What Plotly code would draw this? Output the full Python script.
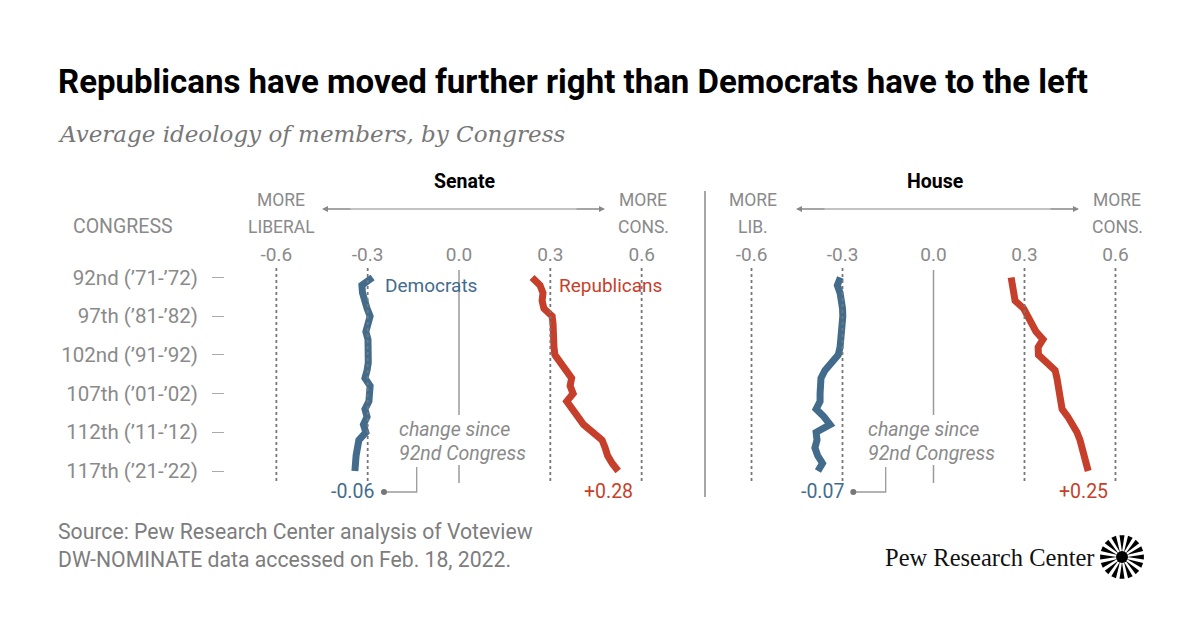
import math
import plotly.graph_objects as go

# ---------------- data ----------------
congress = list(range(92, 118))
ytick_vals = [92, 97, 102, 107, 112, 117]
ytick_text = ["92nd (’71-’72)", "97th (’81-’82)", "102nd (’91-’92)",
              "107th (’01-’02)", "112th (’11-’12)", "117th (’21-’22)"]
xtick_vals = [-0.6, -0.3, 0.0, 0.3, 0.6]
xtick_text = ["-0.6", "-0.3", "0.0", "0.3", "0.6"]
grid_vals = [-0.6, -0.3, 0.3, 0.6]

senate_dem = [-0.284, -0.319, -0.317, -0.312, -0.302, -0.292, -0.302, -0.306, -0.299, -0.297,
              -0.297, -0.298, -0.302, -0.309, -0.292, -0.294, -0.296, -0.309, -0.302, -0.314,
              -0.306, -0.329, -0.335, -0.338, -0.340, -0.342]
senate_rep = [0.240, 0.266, 0.276, 0.273, 0.279, 0.306, 0.309, 0.309, 0.312, 0.312,
              0.315, 0.332, 0.351, 0.370, 0.365, 0.375, 0.354, 0.375, 0.391, 0.409,
              0.444, 0.470, 0.480, 0.488, 0.503, 0.523]
house_dem = [-0.307, -0.317, -0.308, -0.303, -0.300, -0.299, -0.300, -0.302, -0.305, -0.308,
             -0.314, -0.338, -0.358, -0.371, -0.374, -0.374, -0.374, -0.387, -0.361, -0.341,
             -0.387, -0.384, -0.391, -0.382, -0.366, -0.381]
house_rep = [0.256, 0.262, 0.265, 0.269, 0.297, 0.310, 0.328, 0.338, 0.361, 0.345,
             0.346, 0.374, 0.401, 0.407, 0.412, 0.417, 0.420, 0.424, 0.443, 0.460,
             0.473, 0.483, 0.489, 0.493, 0.500, 0.510]

# ---------------- style ----------------
W, H = 1200, 628
BLUE = "#436c8c"
RED = "#c63f2b"
GREY = "#8a8a8a"
LGREY = "#9a9a9a"
SANS = "Roboto, 'Liberation Sans', sans-serif"
SERIF = "'DejaVu Serif', serif"


def px(x):
    return x / W


def py(y):
    return 1 - y / H


fig = go.Figure()
for xs, col, xa in [(senate_dem, BLUE, "x"), (senate_rep, RED, "x"),
                    (house_dem, BLUE, "x2"), (house_rep, RED, "x2")]:
    fig.add_trace(go.Scatter(x=xs, y=congress, mode="lines", xaxis=xa, yaxis="y",
                             line=dict(color=col, width=7), hoverinfo="skip",
                             showlegend=False))

axis_common = dict(side="top", anchor="y", tickvals=xtick_vals, ticktext=xtick_text,
                   showgrid=False, zeroline=False, showline=False, ticks="",
                   tickfont=dict(family=SANS, size=19, color=GREY), fixedrange=True)
sen_dom = [px(240), px(660)]
hou_dom = [px(720), px(1140)]
sen_rng = [(240 - 459) / 304.4, (660 - 459) / 304.4]
hou_rng = [(720 - 933.5) / 303.3, (1140 - 933.5) / 303.3]

ytop, ybot = 266, 484
step = (471 - 277.5) / 25
yrng = [117 + (ybot - 471) / step, 92 - (277.5 - ytop) / step]

fig.update_layout(
    width=W, height=H, margin=dict(l=0, r=0, t=0, b=0),
    paper_bgcolor="white", plot_bgcolor="white",
    xaxis=dict(domain=sen_dom, range=sen_rng, **axis_common),
    xaxis2=dict(domain=hou_dom, range=hou_rng, **axis_common),
    yaxis=dict(domain=[py(ybot), py(ytop)], range=yrng, anchor="free", position=px(224),
               tickvals=ytick_vals, ticktext=ytick_text, ticks="outside", ticklen=12,
               tickwidth=1.2, tickcolor="#aaaaaa", ticklabelstandoff=10,
               ticklabeloverflow="allow",
               showgrid=False, zeroline=False, showline=False,
               tickfont=dict(family=SANS, size=20.5, color=GREY), fixedrange=True),
)

shapes = []
# dotted reference lines and solid zero lines
for xa in ["x", "x2"]:
    for v in grid_vals:
        shapes.append(dict(type="line", xref=xa, yref="paper", x0=v, x1=v,
                           y0=py(268), y1=py(483),
                           line=dict(color="#777777", width=1.8, dash="dot")))
    for (a, b) in [(270, 415), (465, 483)]:
        shapes.append(dict(type="line", xref=xa, yref="paper", x0=0, x1=0,
                           y0=py(a), y1=py(b), line=dict(color=LGREY, width=1.5)))

# panel divider
shapes.append(dict(type="line", xref="paper", yref="paper", x0=px(705), x1=px(705),
                   y0=py(191), y1=py(497), line=dict(color="#888888", width=1.5)))

# arrow shafts (continuous)
for (l, r) in [(326, 601), (800, 1075)]:
    shapes.append(dict(type="line", xref="paper", yref="paper", x0=px(l), x1=px(r),
                       y0=py(209), y1=py(209), line=dict(color="#888888", width=1.2)))

# brackets for change labels
for (vx, dx) in [(416.7, 384), (885.7, 853.3)]:
    shapes.append(dict(type="path", xref="paper", yref="paper",
                       path=f"M {px(vx)},{py(467)} L {px(vx)},{py(492)} L {px(dx)},{py(492)}",
                       line=dict(color=LGREY, width=1.3)))
    shapes.append(dict(type="circle", xref="paper", yref="paper",
                       x0=px(dx - 3), x1=px(dx + 3), y0=py(495), y1=py(489),
                       fillcolor="#777777", line=dict(width=0)))

# Pew sunburst logo
cx, cy, R = 1122, 557, 22
for k in range(16):
    a = math.radians(k * 22.5)
    hw = math.radians(6.5)
    r0 = 5
    pts = [(cx + r0 * math.cos(a), cy + r0 * math.sin(a)),
           (cx + R * math.cos(a - hw), cy + R * math.sin(a - hw)),
           (cx + R * math.cos(a + hw), cy + R * math.sin(a + hw))]
    path = "M " + " L ".join(f"{px(x)},{py(y)}" for x, y in pts) + " Z"
    shapes.append(dict(type="path", xref="paper", yref="paper", path=path,
                       fillcolor="black", line=dict(width=0)))
shapes.append(dict(type="circle", xref="paper", yref="paper",
                   x0=px(cx - 6), x1=px(cx + 6), y0=py(cy + 6), y1=py(cy - 6),
                   fillcolor="black", line=dict(width=0)))

fig.update_layout(shapes=shapes)

anns = []


def ann(text, x, y, size=17, color=GREY, xanchor="center", family=SANS, **fontkw):
    anns.append(dict(text=text, x=px(x), y=py(y), xref="paper", yref="paper",
                     xanchor=xanchor, yanchor="middle", showarrow=False,
                     font=dict(family=family, size=size, color=color, **fontkw)))


ann("Republicans have moved further right than Democrats have to the left", 56, 81,
    size=33, color="black", xanchor="left", weight=700)
ann("Average ideology of members, by Congress", 56, 134, size=23, color="#777777",
    xanchor="left", family=SERIF, style="italic")

ann("Senate", 465, 181, size=19.5, color="black", weight=700)
ann("House", 935, 181, size=19.5, color="black", weight=700)
ann("CONGRESS", 71, 227, size=19.5, xanchor="left")

for (xc, t1, t2) in [(281, "MORE", "LIBERAL"), (643, "MORE", "CONS."),
                     (753, "MORE", "LIB."), (1117, "MORE", "CONS.")]:
    ann(t1, xc, 200, size=17.5)
    ann(t2, xc, 227, size=17.5)

# arrowheads
for (l, r) in [(322, 605), (796, 1079)]:
    for head, off in [(l, 30), (r, -30)]:
        anns.append(dict(text="", x=px(head), y=py(209), xref="paper", yref="paper",
                         ax=off, ay=0, showarrow=True, arrowhead=2, arrowsize=1,
                         arrowwidth=1.2, arrowcolor="#888888", standoff=0, startstandoff=0))

ann("Democrats", 383, 285, size=19, color=BLUE, xanchor="left")
ann("Republicans", 557, 285, size=19, color=RED, xanchor="left")

for xl in [397, 866]:
    ann("change since", xl, 429, size=19.5, xanchor="left", style="italic")
    ann("92nd Congress", xl, 453, size=19.5, xanchor="left", style="italic")


def chg(s):
    d = s[-1] - s[0]
    return f"{d:+.2f}"


ann(chg(senate_dem), 376, 491, size=19.5, color=BLUE, xanchor="right")
ann(chg(senate_rep), 608, 491, size=19.5, color=RED)
ann(chg(house_dem), 846, 491, size=19.5, color=BLUE, xanchor="right")
ann(chg(house_rep), 1083, 491, size=19.5, color=RED)

ann("Source: Pew Research Center analysis of Voteview", 56, 531, size=21.2,
    color="#7d7d7d", xanchor="left")
ann("DW-NOMINATE data accessed on Feb. 18, 2022.", 56, 559, size=21.2,
    color="#7d7d7d", xanchor="left")
ann("Pew Research Center", 1097, 557, size=24.5, color="#111111", xanchor="right",
    family="'Liberation Serif', serif")

fig.update_layout(annotations=anns)
fig.write_html("out.html", config={"displayModeBar": False},
               post_script="document.body.style.margin='0px';document.body.style.overflow='hidden';")
